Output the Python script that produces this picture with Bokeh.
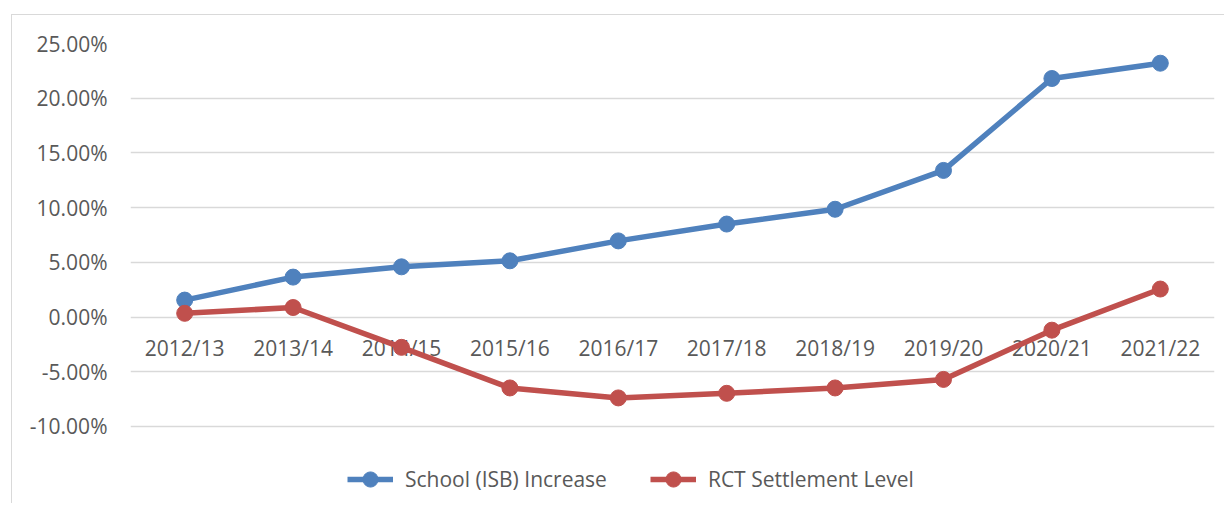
from bokeh.plotting import figure
from bokeh.models import (Range1d, FactorRange, FixedTicker, NumeralTickFormatter,
                          Legend, LegendItem, ColumnDataSource)
from bokeh.core.properties import value
from bokeh.embed import file_html
from bokeh.resources import INLINE

# ---- data ----
years = ["2012/13", "2013/14", "2014/15", "2015/16", "2016/17",
         "2017/18", "2018/19", "2019/20", "2020/21", "2021/22"]
school_isb = [0.0155, 0.0365, 0.0459, 0.0514, 0.0696, 0.0850, 0.0985, 0.1340, 0.2180, 0.2320]
rct_settlement = [0.0034, 0.0087, -0.0277, -0.0648, -0.0739, -0.0697, -0.0648, -0.0570, -0.0120, 0.0256]
y_ticks = [-0.10, -0.05, 0.0, 0.05, 0.10, 0.15, 0.20, 0.25]
axis_cross = 0.0  # category axis crosses the value axis at 0

BLUE = "#4F81BD"
RED = "#C0504D"
TEXT = "#595959"
GRID = "#D9D9D9"
FONT = "Open Sans"

p = figure(
    x_range=FactorRange(*years),
    y_range=Range1d(-0.1704, 0.25),
    frame_width=1084, frame_height=460,
    min_border_left=118, min_border_right=10,
    min_border_top=28, min_border_bottom=0,
    x_axis_location=None,
    output_backend="svg", toolbar_location=None,
    background_fill_color="white", border_fill_color="white",
)
p.margin = (14, 0, 0, 11)
p.styles = {"border-left": "1px solid #D9D9D9", "border-top": "1px solid #D9D9D9"}
p.outline_line_color = None

# y axis
p.yaxis.ticker = FixedTicker(ticks=y_ticks)
p.yaxis.formatter = NumeralTickFormatter(format="0.00%")
p.yaxis.axis_line_color = None
p.yaxis.major_tick_line_color = None
p.yaxis.minor_tick_line_color = None
p.yaxis.major_tick_out = 0
p.yaxis.major_label_standoff = 23
p.yaxis.major_label_text_font = FONT
p.yaxis.major_label_text_font_size = "21px"
p.yaxis.major_label_text_color = TEXT

p.xgrid.grid_line_color = None
p.ygrid.grid_line_color = GRID
p.ygrid.grid_line_width = 1.3

# category labels along the 0 line (Excel-style axis crossing at 0)
lab_src = ColumnDataSource(dict(x=years, y=[axis_cross] * len(years), t=years))
p.text(x="x", y="y", text="t", source=lab_src, y_offset=31,
       text_align="center", text_baseline="middle",
       text_font=value(FONT), text_font_size="21px", text_color=TEXT)

l1 = p.line(years, school_isb, line_color=BLUE, line_width=5.5)
s1 = p.scatter(years, school_isb, size=16, fill_color=BLUE, line_color=BLUE)
l2 = p.line(years, rct_settlement, line_color=RED, line_width=5.5)
s2 = p.scatter(years, rct_settlement, size=16, fill_color=RED, line_color=RED)

legend = Legend(
    items=[LegendItem(label="School (ISB) Increase", renderers=[l1, s1]),
           LegendItem(label="RCT Settlement Level", renderers=[l2, s2])],
    orientation="horizontal",
    location=(217, 5),
    glyph_width=46, glyph_height=38, label_height=20,
    label_standoff=12, spacing=43, padding=0, margin=0,
    border_line_color=None, background_fill_alpha=0,
    label_text_font=FONT, label_text_font_size="21px", label_text_color=TEXT,
)
p.add_layout(legend, "center")

open("out.html", "w").write(file_html(p, INLINE))
